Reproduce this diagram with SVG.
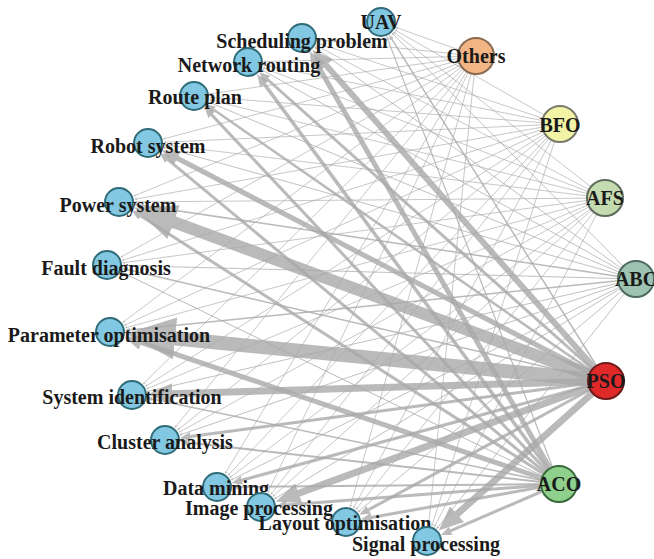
<svg xmlns="http://www.w3.org/2000/svg" width="654" height="559" viewBox="0 0 654 559">
<defs>
<marker id="ah" viewBox="0 -1.5 3.5 3" refX="0.1" refY="0" markerWidth="3.5" markerHeight="3" orient="auto" markerUnits="strokeWidth"><path d="M0,-1.5 L3.5,0 L0,1.5 z" fill="#a9a9a9"/></marker>
</defs>
<style>
.e{stroke:#a9a9a9;fill:none;opacity:0.8;marker-end:url(#ah)}
.t{font-family:"Liberation Serif","Times New Roman",serif;font-weight:bold;font-size:20px;fill:#1a1a1a;text-anchor:middle}
.app{fill:#82c8e2;stroke:#2f6b78;stroke-width:2}
.alg{stroke-width:2}
</style>
<rect width="654" height="559" fill="#ffffff"/>
<g id="connectors">
<!-- Others -->
<line class="e" stroke-width="0.8" x1="476" y1="56" x2="398.0" y2="28.1"/>
<line class="e" stroke-width="0.8" x1="476" y1="56" x2="319.9" y2="39.9"/>
<line class="e" stroke-width="0.8" x1="476" y1="56" x2="266.0" y2="61.5"/>
<line class="e" stroke-width="0.8" x1="476" y1="56" x2="211.8" y2="93.5"/>
<line class="e" stroke-width="0.8" x1="476" y1="56" x2="165.4" y2="138.4"/>
<line class="e" stroke-width="0.8" x1="476" y1="56" x2="135.7" y2="195.2"/>
<line class="e" stroke-width="0.8" x1="476" y1="56" x2="122.7" y2="256.1"/>
<line class="e" stroke-width="0.8" x1="476" y1="56" x2="124.4" y2="321.2"/>
<line class="e" stroke-width="0.8" x1="476" y1="56" x2="144.8" y2="382.4"/>
<line class="e" stroke-width="0.8" x1="476" y1="56" x2="176.3" y2="426.0"/>
<line class="e" stroke-width="0.8" x1="476" y1="56" x2="226.3" y2="471.6"/>
<line class="e" stroke-width="0.8" x1="476" y1="56" x2="268.7" y2="490.7"/>
<line class="e" stroke-width="0.8" x1="476" y1="56" x2="350.8" y2="504.7"/>
<line class="e" stroke-width="0.8" x1="476" y1="56" x2="428.8" y2="523.1"/>
<!-- BFO -->
<line class="e" stroke-width="0.8" x1="560" y1="124" x2="396.6" y2="30.9"/>
<line class="e" stroke-width="0.8" x1="560" y1="124" x2="319.1" y2="43.7"/>
<line class="e" stroke-width="0.8" x1="560" y1="124" x2="265.7" y2="65.5"/>
<line class="e" stroke-width="0.8" x1="560" y1="124" x2="211.9" y2="97.4"/>
<line class="e" stroke-width="0.8" x1="560" y1="124" x2="166.0" y2="142.2"/>
<line class="e" stroke-width="0.8" x1="560" y1="124" x2="136.7" y2="198.9"/>
<line class="e" stroke-width="0.8" x1="560" y1="124" x2="124.2" y2="259.7"/>
<line class="e" stroke-width="0.8" x1="560" y1="124" x2="126.3" y2="324.4"/>
<line class="e" stroke-width="0.8" x1="560" y1="124" x2="147.2" y2="385.4"/>
<line class="e" stroke-width="0.8" x1="560" y1="124" x2="179.1" y2="428.8"/>
<line class="e" stroke-width="0.8" x1="560" y1="124" x2="229.4" y2="473.9"/>
<line class="e" stroke-width="0.8" x1="560" y1="124" x2="272.1" y2="492.8"/>
<line class="e" stroke-width="0.8" x1="560" y1="124" x2="354.5" y2="506.1"/>
<line class="e" stroke-width="0.8" x1="560" y1="124" x2="432.5" y2="523.8"/>
<!-- AFS -->
<line class="e" stroke-width="0.8" x1="605" y1="198" x2="395.1" y2="33.1"/>
<line class="e" stroke-width="0.8" x1="605" y1="198" x2="317.9" y2="46.4"/>
<line class="e" stroke-width="0.8" x1="605" y1="198" x2="264.8" y2="68.4"/>
<line class="e" stroke-width="0.8" x1="605" y1="198" x2="211.5" y2="100.3"/>
<line class="e" stroke-width="0.8" x1="605" y1="198" x2="165.9" y2="145.1"/>
<line class="e" stroke-width="0.8" x1="605" y1="198" x2="137.0" y2="201.9"/>
<line class="e" stroke-width="0.8" x1="605" y1="198" x2="124.8" y2="262.6"/>
<line class="e" stroke-width="0.8" x1="605" y1="198" x2="127.4" y2="327.3"/>
<line class="e" stroke-width="0.8" x1="605" y1="198" x2="148.6" y2="388.1"/>
<line class="e" stroke-width="0.8" x1="605" y1="198" x2="180.8" y2="431.3"/>
<line class="e" stroke-width="0.8" x1="605" y1="198" x2="231.4" y2="476.3"/>
<line class="e" stroke-width="0.8" x1="605" y1="198" x2="274.4" y2="495.0"/>
<line class="e" stroke-width="0.8" x1="605" y1="198" x2="357.2" y2="507.9"/>
<line class="e" stroke-width="0.8" x1="605" y1="198" x2="435.3" y2="525.0"/>
<!-- ABC -->
<line class="e" stroke-width="0.9" x1="636" y1="279" x2="393.7" y2="34.8"/>
<line class="e" stroke-width="0.9" x1="636" y1="279" x2="316.6" y2="48.5"/>
<line class="e" stroke-width="0.9" x1="636" y1="279" x2="263.7" y2="70.8"/>
<line class="e" stroke-width="0.9" x1="636" y1="279" x2="210.6" y2="102.9"/>
<line class="e" stroke-width="0.9" x1="636" y1="279" x2="165.3" y2="147.8"/>
<line class="e" stroke-width="1.5" x1="636" y1="279" x2="138.8" y2="204.9"/>
<line class="e" stroke-width="0.9" x1="636" y1="279" x2="125.0" y2="265.5"/>
<line class="e" stroke-width="1.5" x1="636" y1="279" x2="129.9" y2="330.0"/>
<line class="e" stroke-width="0.9" x1="636" y1="279" x2="149.5" y2="391.0"/>
<line class="e" stroke-width="0.9" x1="636" y1="279" x2="182.0" y2="434.2"/>
<line class="e" stroke-width="0.9" x1="636" y1="279" x2="233.1" y2="479.0"/>
<line class="e" stroke-width="0.9" x1="636" y1="279" x2="276.4" y2="497.7"/>
<line class="e" stroke-width="0.9" x1="636" y1="279" x2="359.8" y2="510.4"/>
<line class="e" stroke-width="0.9" x1="636" y1="279" x2="438.2" y2="526.9"/>
<!-- ACO -->
<line class="e" stroke-width="1.2" x1="559" y1="484" x2="387.9" y2="39.9"/>
<line class="e" stroke-width="5" x1="559" y1="484" x2="318.2" y2="66.2"/>
<line class="e" stroke-width="3.5" x1="559" y1="484" x2="264.2" y2="83.9"/>
<line class="e" stroke-width="3" x1="559" y1="484" x2="211.5" y2="114.6"/>
<line class="e" stroke-width="3" x1="559" y1="484" x2="167.6" y2="159.3"/>
<line class="e" stroke-width="3" x1="559" y1="484" x2="140.5" y2="215.8"/>
<line class="e" stroke-width="1" x1="559" y1="484" x2="123.7" y2="273.1"/>
<line class="e" stroke-width="5" x1="559" y1="484" x2="140.8" y2="342.4"/>
<line class="e" stroke-width="1.5" x1="559" y1="484" x2="151.8" y2="399.1"/>
<line class="e" stroke-width="2" x1="559" y1="484" x2="186.9" y2="442.4"/>
<line class="e" stroke-width="2" x1="559" y1="484" x2="239.0" y2="486.8"/>
<line class="e" stroke-width="3" x1="559" y1="484" x2="286.4" y2="505.0"/>
<line class="e" stroke-width="3" x1="559" y1="484" x2="371.1" y2="517.5"/>
<line class="e" stroke-width="3" x1="559" y1="484" x2="450.4" y2="530.9"/>
<!-- PSO -->
<line class="e" stroke-width="1.5" x1="606" y1="381" x2="391.8" y2="39.2"/>
<line class="e" stroke-width="6" x1="606" y1="381" x2="325.9" y2="64.9"/>
<line class="e" stroke-width="3" x1="606" y1="381" x2="267.0" y2="79.0"/>
<line class="e" stroke-width="2.5" x1="606" y1="381" x2="213.5" y2="109.5"/>
<line class="e" stroke-width="5" x1="606" y1="381" x2="176.8" y2="158.0"/>
<line class="e" stroke-width="12" x1="606" y1="381" x2="172.5" y2="221.7"/>
<line class="e" stroke-width="1.5" x1="606" y1="381" x2="126.7" y2="269.6"/>
<line class="e" stroke-width="14" x1="606" y1="381" x2="173.7" y2="338.3"/>
<line class="e" stroke-width="7" x1="606" y1="381" x2="171.5" y2="393.8"/>
<line class="e" stroke-width="3" x1="606" y1="381" x2="190.3" y2="436.6"/>
<line class="e" stroke-width="3" x1="606" y1="381" x2="241.6" y2="480.3"/>
<line class="e" stroke-width="7" x1="606" y1="381" x2="298.1" y2="493.5"/>
<line class="e" stroke-width="3" x1="606" y1="381" x2="368.4" y2="509.8"/>
<line class="e" stroke-width="7" x1="606" y1="381" x2="456.5" y2="514.7"/>
</g>
<g id="nodes">
<g id="n-uav"><circle class="app" cx="381" cy="22" r="14"/><text class="t" x="381" y="29">UAV</text></g>
<g id="n-sch"><circle class="app" cx="302" cy="38" r="14"/><text class="t" x="302" y="48">Scheduling problem</text></g>
<g id="n-net"><circle class="app" cx="248" cy="62" r="14"/><text class="t" x="249" y="72">Network routing</text></g>
<g id="n-rou"><circle class="app" cx="194" cy="96" r="14"/><text class="t" x="195" y="104">Route plan</text></g>
<g id="n-rob"><circle class="app" cx="148" cy="143" r="14"/><text class="t" x="148" y="153">Robot system</text></g>
<g id="n-pow"><circle class="app" cx="119" cy="202" r="14"/><text class="t" x="118" y="212">Power system</text></g>
<g id="n-fau"><circle class="app" cx="107" cy="265" r="14"/><text class="t" x="106" y="275">Fault diagnosis</text></g>
<g id="n-par"><circle class="app" cx="110" cy="332" r="14"/><text class="t" x="109" y="342">Parameter optimisation</text></g>
<g id="n-sys"><circle class="app" cx="132" cy="395" r="14"/><text class="t" x="132" y="404">System identification</text></g>
<g id="n-clu"><circle class="app" cx="165" cy="440" r="14"/><text class="t" x="165" y="449">Cluster analysis</text></g>
<g id="n-dat"><circle class="app" cx="217" cy="487" r="14"/><text class="t" x="216" y="495">Data mining</text></g>
<g id="n-img"><circle class="app" cx="261" cy="507" r="14"/><text class="t" x="259" y="515">Image processing</text></g>
<g id="n-lay"><circle class="app" cx="346" cy="522" r="14"/><text class="t" x="345" y="530">Layout optimisation</text></g>
<g id="n-sig"><circle class="app" cx="427" cy="541" r="14"/><text class="t" x="426" y="551">Signal processing</text></g>
<g id="n-oth"><circle class="alg" cx="476" cy="56" r="18" fill="#f3b584" stroke="#8a6b52"/><text class="t" x="476" y="63">Others</text></g>
<g id="n-bfo"><circle class="alg" cx="560" cy="124" r="18" fill="#f3f3a6" stroke="#7a7a6a"/><text class="t" x="560" y="132">BFO</text></g>
<g id="n-afs"><circle class="alg" cx="605" cy="198" r="18" fill="#c4dbb0" stroke="#5d6b5a"/><text class="t" x="605" y="205">AFS</text></g>
<g id="n-abc"><circle class="alg" cx="636" cy="279" r="18" fill="#9fc3b2" stroke="#4e6b5f"/><text class="t" x="636" y="286">ABC</text></g>
<g id="n-pso"><circle class="alg" cx="606" cy="381" r="18" fill="#e02a2a" stroke="#6e1a1a"/><text class="t" x="606" y="388">PSO</text></g>
<g id="n-aco"><circle class="alg" cx="559" cy="484" r="18" fill="#8fd08c" stroke="#3b6a3a"/><text class="t" x="559" y="491">ACO</text></g>
</g>
</svg>
